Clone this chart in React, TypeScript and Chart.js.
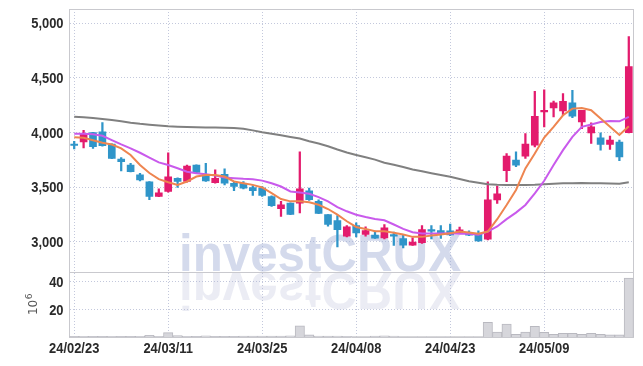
import { useEffect, useRef } from "react";
import { Chart, registerables } from "chart.js";

Chart.register(...registerables);

const dates = [
  "24/02/23", "24/02/26", "24/02/27", "24/02/28", "24/02/29", "24/03/04", "24/03/05", "24/03/06", "24/03/07", "24/03/08",
  "24/03/11", "24/03/12", "24/03/13", "24/03/14", "24/03/15", "24/03/18", "24/03/19", "24/03/20", "24/03/21", "24/03/22",
  "24/03/25", "24/03/26", "24/03/27", "24/03/28", "24/03/29", "24/04/01", "24/04/02", "24/04/03", "24/04/04", "24/04/05",
  "24/04/08", "24/04/09", "24/04/11", "24/04/12", "24/04/15", "24/04/16", "24/04/17", "24/04/18", "24/04/19", "24/04/22",
  "24/04/23", "24/04/24", "24/04/25", "24/04/26", "24/04/29", "24/04/30", "24/05/02", "24/05/03", "24/05/07", "24/05/08",
  "24/05/09", "24/05/10", "24/05/13", "24/05/14", "24/05/16", "24/05/17", "24/05/20", "24/05/21", "24/05/22", "24/05/23",
];

const opens = [
  3895, 3915, 4000, 4006, 3894, 3758, 3703, 3612, 3548, 3415,
  3461, 3582, 3552, 3703, 3612, 3542, 3618, 3536, 3536, 3497,
  3491, 3415, 3303, 3354, 3354, 3467, 3370, 3248, 3194, 3052,
  3148, 3067, 3061, 3036, 3067, 3030, 2970, 2991, 3112, 3103,
  3100, 3085, 3085, 3070, 3024, 3383, 3650, 3748, 3784, 3884,
  4188, 4225, 4198, 4271, 4097, 3997, 3951, 3891, 3912, 4000,
];
const highs = [
  3920, 4021, 4003, 4091, 3896, 3770, 3718, 3627, 3551, 3485,
  3815, 3585, 3703, 3705, 3718, 3658, 3667, 3551, 3551, 3515,
  3506, 3421, 3370, 3356, 3824, 3491, 3385, 3250, 3239, 3148,
  3173, 3136, 3097, 3158, 3088, 3067, 3036, 3148, 3148, 3148,
  3161, 3134, 3100, 3100, 3550, 3511, 3808, 3824, 3991, 4377,
  4392, 4289, 4356, 4386, 4204, 4088, 3997, 3967, 3930, 4879,
];
const lows = [
  3850, 3860, 3855, 3875, 3760, 3648, 3640, 3558, 3385, 3412,
  3455, 3497, 3545, 3627, 3552, 3536, 3521, 3467, 3485, 3424,
  3415, 3324, 3233, 3248, 3264, 3379, 3258, 3142, 2952, 3045,
  3045, 3052, 3030, 3027, 2967, 2945, 2967, 2985, 3027, 3030,
  3055, 3079, 3055, 3003, 3018, 3352, 3550, 3687, 3763, 3869,
  4052, 4143, 4158, 4137, 4036, 3900, 3839, 3845, 3742, 3997,
];
const closes = [
  3883, 3991, 3870, 3879, 3764, 3733, 3642, 3567, 3415, 3449,
  3594, 3552, 3694, 3636, 3558, 3582, 3536, 3506, 3491, 3467,
  3424, 3330, 3339, 3250, 3485, 3385, 3260, 3158, 3112, 3136,
  3082, 3103, 3033, 3127, 3052, 2970, 2997, 3112, 3097, 3073,
  3064, 3109, 3061, 3009, 3383, 3438, 3784, 3702, 3894, 4149,
  4204, 4271, 4286, 4149, 4204, 4052, 3891, 3930, 3778, 4605,
];

// volume, in millions (10^6)
const volumes = [
  0.4, 0.5, 0.4, 0.4, 0.5, 0.4, 0.4, 0.5, 1.2, 0.5,
  3.2, 1.0, 0.5, 0.4, 0.9, 0.4, 0.4, 0.4, 0.6, 0.6,
  0.6, 0.6, 0.6, 0.8, 8.0, 1.6, 0.7, 0.6, 0.7, 0.5,
  0.3, 0.3, 0.6, 0.8, 0.7, 0.3, 0.3, 0.3, 0.3, 0.3,
  0.3, 0.3, 0.3, 0.3, 10.6, 3.6, 9.3, 2.0, 3.5, 7.7,
  3.4, 2.0, 2.7, 2.7, 2.0, 2.7, 2.0, 1.5, 1.5, 42.7,
];

const ma5 = [
  3958, 3952, 3930, 3906, 3891, 3855, 3794, 3703, 3630, 3573,
  3545, 3521, 3552, 3597, 3612, 3612, 3597, 3552, 3536, 3521,
  3497, 3445, 3391, 3370, 3370, 3361, 3339, 3300, 3248, 3188,
  3136, 3118, 3097, 3097, 3082, 3067, 3045, 3045, 3058, 3067,
  3079, 3094, 3085, 3073, 3094, 3207, 3337, 3474, 3672, 3808,
  3954, 4052, 4158, 4219, 4225, 4204, 4128, 4052, 3978, 4058,
];
const ma20 = [
  3988, 3988, 3985, 3970, 3930, 3891, 3855, 3815, 3770, 3727,
  3703, 3673, 3642, 3627, 3618, 3606, 3588, 3582, 3576, 3573,
  3560, 3536, 3506, 3461, 3452, 3439, 3409, 3370, 3318, 3279,
  3248, 3227, 3209, 3197, 3158, 3118, 3088, 3076, 3076, 3076,
  3078, 3073, 3073, 3064, 3094, 3140, 3207, 3267, 3337, 3444,
  3559, 3702, 3839, 3960, 4052, 4073, 4097, 4106, 4103, 4143,
];
const maLong = [
  4145, 4140, 4133, 4125, 4115, 4103, 4090, 4080, 4072, 4065,
  4058, 4054, 4051, 4049, 4047, 4046, 4044, 4041, 4035, 4020,
  4003, 3990, 3975, 3960, 3945, 3920, 3900, 3875, 3845, 3818,
  3795, 3774, 3752, 3724, 3705, 3685, 3662, 3645, 3628, 3612,
  3595, 3575, 3555, 3541, 3527, 3522, 3520, 3520, 3521, 3523,
  3527, 3531, 3535, 3537, 3538, 3537, 3535, 3533, 3532, 3544,
];

const priceTicks = [3000, 3500, 4000, 4500, 5000];
const volumeTicks = [0, 20, 40];
const dateTickEvery = 10;

const UP = "#e31b6d";
const DOWN = "#2f95c9";
const GRID = "#c3c8dc";
const FRAME = "#c9c9ce";
const LABEL_FONT = 'bold 15px "Liberation Sans", Arial, sans-serif';
const LABEL_SCALE_X = 0.86;
const LABEL_COLOR = "#2a2a2a";

function drawNarrow(ctx: CanvasRenderingContext2D, text: string, x: number, y: number, align: "right" | "center") {
  ctx.save();
  ctx.font = LABEL_FONT;
  ctx.fillStyle = LABEL_COLOR;
  ctx.textBaseline = "middle";
  ctx.textAlign = align;
  ctx.translate(x, y);
  ctx.scale(LABEL_SCALE_X, 1);
  ctx.fillText(text, 0, 0);
  ctx.restore();
}

const decorPlugin = {
  id: "decor",
  beforeDatasetsDraw(chart: any) {
    const { ctx, chartArea: ca, scales } = chart;
    const yv = scales.yv;
    // watermark
    ctx.save();
    ctx.beginPath();
    ctx.rect(ca.left, ca.top, ca.right - ca.left, ca.bottom - ca.top);
    ctx.clip();
    ctx.font = 'bold 52px "Liberation Sans", Arial, sans-serif';
    ctx.textBaseline = "alphabetic";
    ctx.textAlign = "left";
    const text = "investCRUX";
    const w = ctx.measureText(text).width;
    const sx = 282 / w;
    ctx.translate(179, yv.top);
    ctx.scale(sx, 1);
    ctx.fillStyle = "rgba(160,172,212,0.45)";
    ctx.fillText(text, 0, -1);
    ctx.scale(1, -1);
    ctx.fillStyle = "rgba(175,180,210,0.25)";
    ctx.fillText(text, 0, -1);
    ctx.restore();
    // frame lines
    ctx.save();
    ctx.strokeStyle = FRAME;
    ctx.lineWidth = 1;
    ctx.beginPath();
    const yd = Math.round(yv.top) + 0.5;
    ctx.moveTo(ca.left, yd);
    ctx.lineTo(ca.right, yd);
    const yt = Math.round(ca.top) + 0.5;
    ctx.moveTo(ca.left, yt);
    ctx.lineTo(ca.right, yt);
    const xr = Math.round(ca.right) - 0.5;
    ctx.moveTo(xr, ca.top);
    ctx.lineTo(xr, ca.bottom);
    ctx.stroke();
    ctx.restore();
  },
  afterDraw(chart: any) {
    const { ctx, scales } = chart;
    const { x, y, yv } = scales;
    // tick labels (narrow face)
    const labelRight = y.left + y.width - 6;
    for (const v of priceTicks) {
      drawNarrow(ctx, v.toLocaleString("en-US"), labelRight, y.getPixelForValue(v) + 1, "right");
    }
    for (const v of volumeTicks) {
      if (v === 0) continue;
      drawNarrow(ctx, String(v), labelRight, yv.getPixelForValue(v) + 1, "right");
    }
    dates.forEach((d, i) => {
      if (i % dateTickEvery !== 0) return;
      drawNarrow(ctx, d, x.getPixelForValue(i), x.top + 12, "center");
    });
    // volume unit title
    const cy = (yv.top + yv.bottom) / 2;
    ctx.save();
    ctx.translate(37, cy);
    ctx.rotate(-Math.PI / 2);
    ctx.fillStyle = "#555";
    ctx.textBaseline = "alphabetic";
    ctx.textAlign = "left";
    ctx.font = '12px "DejaVu Sans", sans-serif';
    const w1 = ctx.measureText("10").width;
    ctx.font = '9px "DejaVu Sans", sans-serif';
    const w2 = ctx.measureText("6").width;
    const start = -(w1 + w2) / 2;
    ctx.font = '12px "DejaVu Sans", sans-serif';
    ctx.fillText("10", start, 0);
    ctx.font = '9px "DejaVu Sans", sans-serif';
    ctx.fillText("6", start + w1 + 0.5, -5);
    ctx.restore();
  },
};

export default function App() {
  const ref = useRef<HTMLCanvasElement | null>(null);

  useEffect(() => {
    if (!ref.current) return;
    const colors = opens.map((o, i) => (closes[i] >= o ? UP : DOWN));
    const chart = new Chart(ref.current, {
      type: "bar",
      data: {
        labels: dates,
        datasets: [
          {
            type: "line",
            label: "MA5",
            data: ma5,
            borderColor: "#ee8550",
            borderWidth: 2,
            pointRadius: 0,
            tension: 0,
            yAxisID: "y",
            order: 1,
          } as any,
          {
            type: "line",
            label: "MA20",
            data: ma20,
            borderColor: "#c95aec",
            borderWidth: 2,
            pointRadius: 0,
            tension: 0,
            yAxisID: "y",
            order: 1,
          } as any,
          {
            type: "line",
            label: "MA",
            data: maLong,
            borderColor: "#808080",
            borderWidth: 2,
            pointRadius: 0,
            tension: 0,
            yAxisID: "y",
            order: 1,
          } as any,
          {
            type: "bar",
            label: "body",
            data: opens.map((o, i) => [o, closes[i]]),
            backgroundColor: colors,
            barThickness: 7,
            minBarLength: 1,
            grouped: false,
            yAxisID: "y",
            order: 2,
          } as any,
          {
            type: "bar",
            label: "wick",
            data: lows.map((l, i) => [l, highs[i]]),
            backgroundColor: colors,
            barThickness: 1.6,
            grouped: false,
            yAxisID: "y",
            order: 3,
          } as any,
          {
            type: "bar",
            label: "volume",
            data: volumes,
            backgroundColor: "#d6d6db",
            borderColor: "#b9b9c0",
            borderWidth: 1,
            barPercentage: 1,
            categoryPercentage: 1,
            grouped: false,
            yAxisID: "yv",
            order: 4,
          } as any,
        ],
      },
      options: {
        responsive: false,
        animation: false,
        events: [],
        layout: { padding: { left: 7.5, top: 9, right: 9.5, bottom: 0 } },
        plugins: { legend: { display: false }, tooltip: { enabled: false } },
        scales: {
          x: {
            type: "category",
            offset: true,
            grid: {
              offset: false,
              drawTicks: false,
              color: GRID,
              lineWidth: (c: any) => (c.index % dateTickEvery === 0 ? 1 : 0),
            },
            border: { color: FRAME, dash: [1, 2] },
            ticks: { display: false, autoSkip: false, maxRotation: 0 },
            afterFit: (s: any) => {
              s.height = 29;
            },
          },
          yv: {
            type: "linear",
            position: "left",
            stack: "panes",
            stackWeight: 1,
            min: 0,
            max: 47,
            grid: {
              drawTicks: false,
              color: GRID,
              lineWidth: (c: any) => (c.tick && c.tick.value === 0 ? 0 : 1),
            },
            border: { color: FRAME, dash: [1, 2] },
            ticks: { display: false },
            afterBuildTicks: (s: any) => {
              s.ticks = volumeTicks.map((v) => ({ value: v }));
            },
            afterFit: (s: any) => {
              s.width = 62;
            },
          },
          y: {
            type: "linear",
            position: "left",
            stack: "panes",
            stackWeight: 4.05,
            min: 2723,
            max: 5131,
            grid: { drawTicks: false, color: GRID, lineWidth: 1 },
            border: { color: FRAME, dash: [1, 2] },
            ticks: { display: false },
            afterBuildTicks: (s: any) => {
              s.ticks = priceTicks.map((v) => ({ value: v }));
            },
            afterFit: (s: any) => {
              s.width = 62;
            },
          },
        },
      } as any,
      plugins: [decorPlugin],
    });
    return () => chart.destroy();
  }, []);

  return (
    <div style={{ position: "absolute", left: 0, top: 0, width: 643, height: 366, background: "#fff" }}>
      <canvas ref={ref} width={643} height={366} style={{ display: "block" }} />
    </div>
  );
}
